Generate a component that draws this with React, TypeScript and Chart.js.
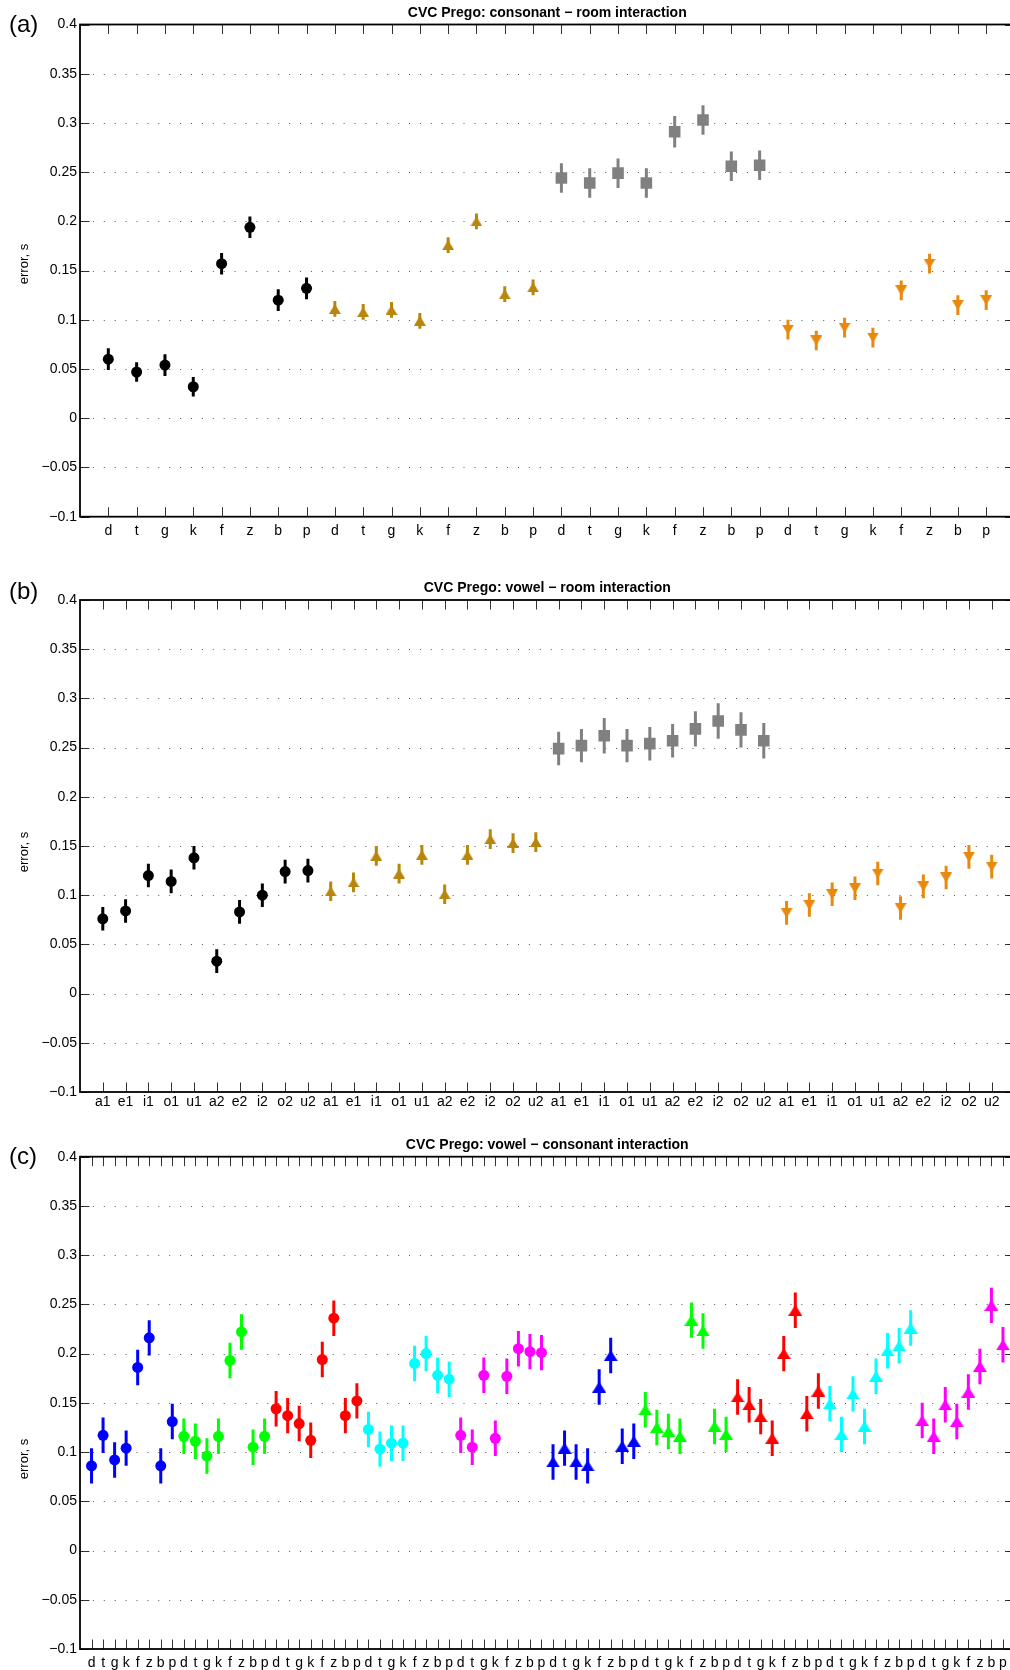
import React, { useEffect, useRef } from "react";
import { Chart, registerables } from "chart.js";

Chart.register(...registerables);

const FONT = '"Liberation Sans", Arial, Helvetica, sans-serif';

// ---- category labels ----
const consonants = ["d", "t", "g", "k", "f", "z", "b", "p"];
const vowels = ["a1", "e1", "i1", "o1", "u1", "a2", "e2", "i2", "o2", "u2"];
const consonantRoomLabels = [...consonants, ...consonants, ...consonants, ...consonants];
const vowelRoomLabels = [...vowels, ...vowels, ...vowels, ...vowels];
const vowelConsonantLabels = [
  ...consonants, ...consonants, ...consonants, ...consonants, ...consonants,
  ...consonants, ...consonants, ...consonants, ...consonants, ...consonants,
];

// ---- y axis ----
const yTickValues = [0.4, 0.35, 0.3, 0.25, 0.2, 0.15, 0.1, 0.05, 0, -0.05, -0.1];
const Y_MIN = -0.1;
const Y_MAX = 0.4;

// ---- (a) consonant x room ----
const crRoom1 = [0.060, 0.047, 0.054, 0.032, 0.157, 0.194, 0.120, 0.132];
const crRoom1Err = [0.011, 0.010, 0.011, 0.010, 0.011, 0.011, 0.011, 0.011];
const crRoom2 = [0.111, 0.108, 0.110, 0.099, 0.176, 0.200, 0.126, 0.133];
const crRoom2Err = [0.008, 0.008, 0.008, 0.008, 0.008, 0.008, 0.008, 0.008];
const crRoom3 = [0.244, 0.239, 0.249, 0.239, 0.291, 0.303, 0.256, 0.257];
const crRoom3Err = [0.015, 0.015, 0.015, 0.015, 0.016, 0.015, 0.015, 0.015];
const crRoom4 = [0.090, 0.079, 0.092, 0.082, 0.130, 0.157, 0.115, 0.120];
const crRoom4Err = [0.010, 0.010, 0.010, 0.010, 0.010, 0.010, 0.010, 0.010];

// ---- (b) vowel x room ----
const vrRoom1 = [0.076, 0.084, 0.120, 0.114, 0.138, 0.033, 0.083, 0.100, 0.124, 0.125];
const vrRoom1Err = [0.012, 0.012, 0.012, 0.012, 0.012, 0.012, 0.012, 0.012, 0.012, 0.012];
const vrRoom2 = [0.104, 0.113, 0.140, 0.122, 0.141, 0.101, 0.141, 0.157, 0.153, 0.154];
const vrRoom2Err = [0.010, 0.010, 0.010, 0.010, 0.010, 0.010, 0.010, 0.010, 0.010, 0.010];
const vrRoom3 = [0.249, 0.252, 0.262, 0.252, 0.254, 0.257, 0.269, 0.277, 0.268, 0.257];
const vrRoom3Err = [0.017, 0.017, 0.018, 0.017, 0.017, 0.017, 0.018, 0.018, 0.018, 0.018];
const vrRoom4 = [0.082, 0.090, 0.101, 0.107, 0.122, 0.087, 0.109, 0.118, 0.139, 0.129];
const vrRoom4Err = [0.012, 0.012, 0.012, 0.012, 0.012, 0.012, 0.012, 0.012, 0.012, 0.012];

// ---- (c) vowel x consonant ----
const vcA1 = [0.086, 0.117, 0.092, 0.104, 0.186, 0.216, 0.086, 0.131];
const vcE1 = [0.116, 0.111, 0.096, 0.116, 0.193, 0.222, 0.105, 0.116];
const vcI1 = [0.144, 0.137, 0.129, 0.112, 0.194, 0.236, 0.137, 0.152];
const vcO1 = [0.123, 0.103, 0.109, 0.109, 0.190, 0.200, 0.178, 0.174];
const vcU1 = [0.117, 0.105, 0.178, 0.114, 0.177, 0.205, 0.202, 0.201];
const vcA2 = [0.090, 0.104, 0.090, 0.086, 0.166, 0.198, 0.106, 0.111];
const vcE2 = [0.143, 0.125, 0.121, 0.116, 0.234, 0.223, 0.126, 0.118];
const vcI2 = [0.156, 0.148, 0.136, 0.114, 0.200, 0.244, 0.139, 0.162];
const vcO2 = [0.149, 0.118, 0.159, 0.126, 0.177, 0.203, 0.208, 0.226];
const vcU2 = [0.132, 0.116, 0.148, 0.131, 0.161, 0.187, 0.249, 0.209];
const vcErr = [0.018, 0.018, 0.018, 0.018, 0.018, 0.018, 0.018, 0.018];

const GOLD = "#B8860B";
const GRAY = "#808080";
const ORANGE = "#E8890C";

type Marker = "circle" | "square" | "up" | "down";

interface Series {
  values: number[];
  errors: number[];
  first: number;
  color: string;
  marker: Marker;
}

interface PanelSpec {
  tag: string;
  title: string;
  labels: string[];
  xMax: number;
  series: Series[];
  top: number;
  height: number;
  areaTop: number;
  areaBottom: number;
  labelPad: number;
  tagY: number;
  yLabelY: number;
  triW: number;
  triH: number;
}

const CANVAS_W = 1018;
const AREA_LEFT = 80;
const AREA_RIGHT = 1014.5;
const TICK_LEN = 9.5;

function triangle(color: string, w: number, h: number, down: boolean): HTMLCanvasElement {
  const c = document.createElement("canvas");
  c.width = w;
  c.height = h;
  const ctx = c.getContext("2d")!;
  ctx.fillStyle = color;
  ctx.beginPath();
  if (down) {
    ctx.moveTo(0, 0);
    ctx.lineTo(w, 0);
    ctx.lineTo(w / 2, h);
  } else {
    ctx.moveTo(w / 2, 0);
    ctx.lineTo(w, h);
    ctx.lineTo(0, h);
  }
  ctx.closePath();
  ctx.fill();
  return c;
}

function fmtTick(v: number): string {
  const r = Math.round(v * 100) / 100;
  return r < 0 ? "\u2212" + String(-r) : String(r);
}

// frame, dotted grid, inward ticks, title, panel tag and y-axis name
const framePlugin = {
  id: "axesFrame",
  beforeDatasetsDraw(chart: any) {
    const { ctx, chartArea: a, scales } = chart;
    ctx.save();
    ctx.strokeStyle = "#555";
    ctx.lineWidth = 1;
    ctx.setLineDash([1, 9.9]);
    for (const v of yTickValues) {
      if (v >= Y_MAX || v <= Y_MIN) continue;
      const py = Math.round(scales.y.getPixelForValue(v)) + 0.5;
      ctx.beginPath();
      ctx.moveTo(a.left + 2, py);
      ctx.lineTo(a.right, py);
      ctx.stroke();
    }
    ctx.restore();
  },
  afterDatasetsDraw(chart: any, _args: any, opts: any) {
    const { ctx, chartArea: a, scales } = chart;
    ctx.save();
    ctx.strokeStyle = "rgba(0,0,0,0.8)";
    ctx.lineWidth = 1;
    const n = opts.count as number;
    for (let i = 1; i <= n; i++) {
      const px = Math.round(scales.x.getPixelForValue(i)) + 0.5;
      ctx.beginPath();
      ctx.moveTo(px, a.bottom);
      ctx.lineTo(px, a.bottom - TICK_LEN);
      ctx.moveTo(px, a.top);
      ctx.lineTo(px, a.top + TICK_LEN);
      ctx.stroke();
    }
    for (const v of yTickValues) {
      const py = Math.round(scales.y.getPixelForValue(v)) + 0.5;
      ctx.beginPath();
      ctx.moveTo(a.left, py);
      ctx.lineTo(a.left + TICK_LEN, py);
      ctx.moveTo(a.right, py);
      ctx.lineTo(a.right - TICK_LEN, py);
      ctx.stroke();
    }
    ctx.strokeStyle = "#000";
    ctx.lineWidth = 1.8;
    ctx.strokeRect(a.left, a.top, a.right - a.left, a.bottom - a.top);
    ctx.restore();
  },
  afterDraw(chart: any, _args: any, opts: any) {
    const { ctx, chartArea: a } = chart;
    ctx.save();
    ctx.fillStyle = "#000";
    ctx.font = `bold 14px ${FONT}`;
    ctx.textAlign = "center";
    ctx.textBaseline = "alphabetic";
    ctx.fillText(opts.title, (a.left + a.right) / 2, a.top - 7.8);

    ctx.font = `24px ${FONT}`;
    ctx.textAlign = "left";
    ctx.textBaseline = "middle";
    ctx.fillText(opts.tag, 9, opts.tagY);

    ctx.translate(24, opts.yLabelY);
    ctx.rotate(-Math.PI / 2);
    ctx.font = `13px ${FONT}`;
    ctx.textAlign = "center";
    ctx.fillText("error, s", 0, 0);
    ctx.restore();
  },
};

function Panel({ spec }: { spec: PanelSpec }) {
  const ref = useRef<HTMLCanvasElement>(null);

  useEffect(() => {
    const canvas = ref.current;
    if (!canvas) return;
    const datasets: any[] = [];
    for (const s of spec.series) {
      datasets.push({
        type: "bar",
        data: s.values.map((v, i) => ({ x: s.first + i, y: [v - s.errors[i], v + s.errors[i]] })),
        backgroundColor: s.color,
        borderWidth: 0,
        grouped: false,
        maxBarThickness: 3,
        inflateAmount: 0,
        order: 2,
      });
      let pointStyle: any = "circle";
      let radius = 5.5;
      if (s.marker === "square") {
        pointStyle = "rect";
        radius = 8.2;
      } else if (s.marker === "up" || s.marker === "down") {
        pointStyle = triangle(s.color, spec.triW, spec.triH, s.marker === "down");
        radius = 6;
      }
      datasets.push({
        type: "scatter",
        data: s.values.map((v, i) => ({ x: s.first + i, y: v })),
        pointStyle,
        pointRadius: radius,
        pointBackgroundColor: s.color,
        pointBorderColor: s.color,
        pointBorderWidth: 0,
        showLine: false,
        order: 1,
      });
    }

    const labels = spec.labels;
    const chart = new Chart(canvas, {
      type: "scatter",
      data: { datasets },
      options: {
        responsive: false,
        animation: false,
        events: [],
        layout: {
          autoPadding: false,
          padding: {
            left: 0,
            right: CANVAS_W - AREA_RIGHT,
            top: spec.areaTop,
            bottom: 0,
          },
        },
        plugins: {
          legend: { display: false },
          tooltip: { enabled: false },
          title: { display: false },
          axesFrame: {
            title: spec.title,
            tag: spec.tag,
            tagY: spec.tagY,
            yLabelY: spec.yLabelY,
            count: labels.length,
          },
        } as any,
        scales: {
          x: {
            type: "linear",
            min: 0,
            max: spec.xMax,
            offset: false,
            grid: { display: false, drawTicks: false, offset: false },
            border: { display: false },
            afterBuildTicks: (scale: any) => {
              scale.ticks = labels.map((_, i) => ({ value: i + 1 }));
            },
            afterFit: (scale: any) => {
              scale.height = spec.height - spec.areaBottom;
            },
            ticks: {
              autoSkip: false,
              maxRotation: 0,
              minRotation: 0,
              padding: spec.labelPad,
              color: "#000",
              font: { family: FONT, size: 14 },
              callback: (v: any) => labels[Math.round(Number(v)) - 1] ?? "",
            },
          },
          y: {
            type: "linear",
            min: Y_MIN,
            max: Y_MAX,
            grid: { display: false, drawTicks: false },
            border: { display: false },
            afterBuildTicks: (scale: any) => {
              scale.ticks = yTickValues.map((value) => ({ value }));
            },
            afterFit: (scale: any) => {
              scale.width = AREA_LEFT;
            },
            ticks: {
              padding: 3,
              color: "#000",
              font: { family: FONT, size: 14 },
              callback: (v: any) => fmtTick(Number(v)),
            },
          },
        },
      } as any,
      plugins: [framePlugin as any],
    });
    return () => chart.destroy();
  }, [spec]);

  return (
    <canvas
      ref={ref}
      width={CANVAS_W}
      height={spec.height}
      style={{ position: "absolute", left: 0, top: spec.top, width: CANVAS_W, height: spec.height }}
    />
  );
}

const panels: PanelSpec[] = [
  {
    tag: "(a)",
    title: "CVC Prego: consonant \u2212 room interaction",
    labels: consonantRoomLabels,
    xMax: 33,
    series: [
      { values: crRoom1, errors: crRoom1Err, first: 1, color: "#000000", marker: "circle" },
      { values: crRoom2, errors: crRoom2Err, first: 9, color: GOLD, marker: "up" },
      { values: crRoom3, errors: crRoom3Err, first: 17, color: GRAY, marker: "square" },
      { values: crRoom4, errors: crRoom4Err, first: 25, color: ORANGE, marker: "down" },
    ],
    top: 0,
    height: 560,
    areaTop: 24.5,
    areaBottom: 516.7,
    labelPad: 6,
    tagY: 25,
    yLabelY: 264,
    triW: 12,
    triH: 10,
  },
  {
    tag: "(b)",
    title: "CVC Prego: vowel \u2212 room interaction",
    labels: vowelRoomLabels,
    xMax: 41,
    series: [
      { values: vrRoom1, errors: vrRoom1Err, first: 1, color: "#000000", marker: "circle" },
      { values: vrRoom2, errors: vrRoom2Err, first: 11, color: GOLD, marker: "up" },
      { values: vrRoom3, errors: vrRoom3Err, first: 21, color: GRAY, marker: "square" },
      { values: vrRoom4, errors: vrRoom4Err, first: 31, color: ORANGE, marker: "down" },
    ],
    top: 560,
    height: 555,
    areaTop: 40,
    areaBottom: 532,
    labelPad: 2,
    tagY: 32,
    yLabelY: 292,
    triW: 12,
    triH: 10,
  },
  {
    tag: "(c)",
    title: "CVC Prego: vowel \u2212 consonant interaction",
    labels: vowelConsonantLabels,
    xMax: 81,
    series: [
      { values: vcA1, errors: vcErr, first: 1, color: "#0000FF", marker: "circle" },
      { values: vcE1, errors: vcErr, first: 9, color: "#00FF00", marker: "circle" },
      { values: vcI1, errors: vcErr, first: 17, color: "#FF0000", marker: "circle" },
      { values: vcO1, errors: vcErr, first: 25, color: "#00FFFF", marker: "circle" },
      { values: vcU1, errors: vcErr, first: 33, color: "#FF00FF", marker: "circle" },
      { values: vcA2, errors: vcErr, first: 41, color: "#0000FF", marker: "up" },
      { values: vcE2, errors: vcErr, first: 49, color: "#00FF00", marker: "up" },
      { values: vcI2, errors: vcErr, first: 57, color: "#FF0000", marker: "up" },
      { values: vcO2, errors: vcErr, first: 65, color: "#00FFFF", marker: "up" },
      { values: vcU2, errors: vcErr, first: 73, color: "#FF00FF", marker: "up" },
    ],
    top: 1115,
    height: 555,
    areaTop: 41.7,
    areaBottom: 534,
    labelPad: 5.5,
    tagY: 42,
    yLabelY: 344,
    triW: 14,
    triH: 11,
  },
];

export default function App() {
  return (
    <div
      style={{
        position: "absolute",
        left: 0,
        top: 0,
        width: 1010,
        height: 1670,
        overflow: "hidden",
        background: "#fff",
      }}
    >
      {panels.map((p) => (
        <Panel key={p.tag} spec={p} />
      ))}
    </div>
  );
}
